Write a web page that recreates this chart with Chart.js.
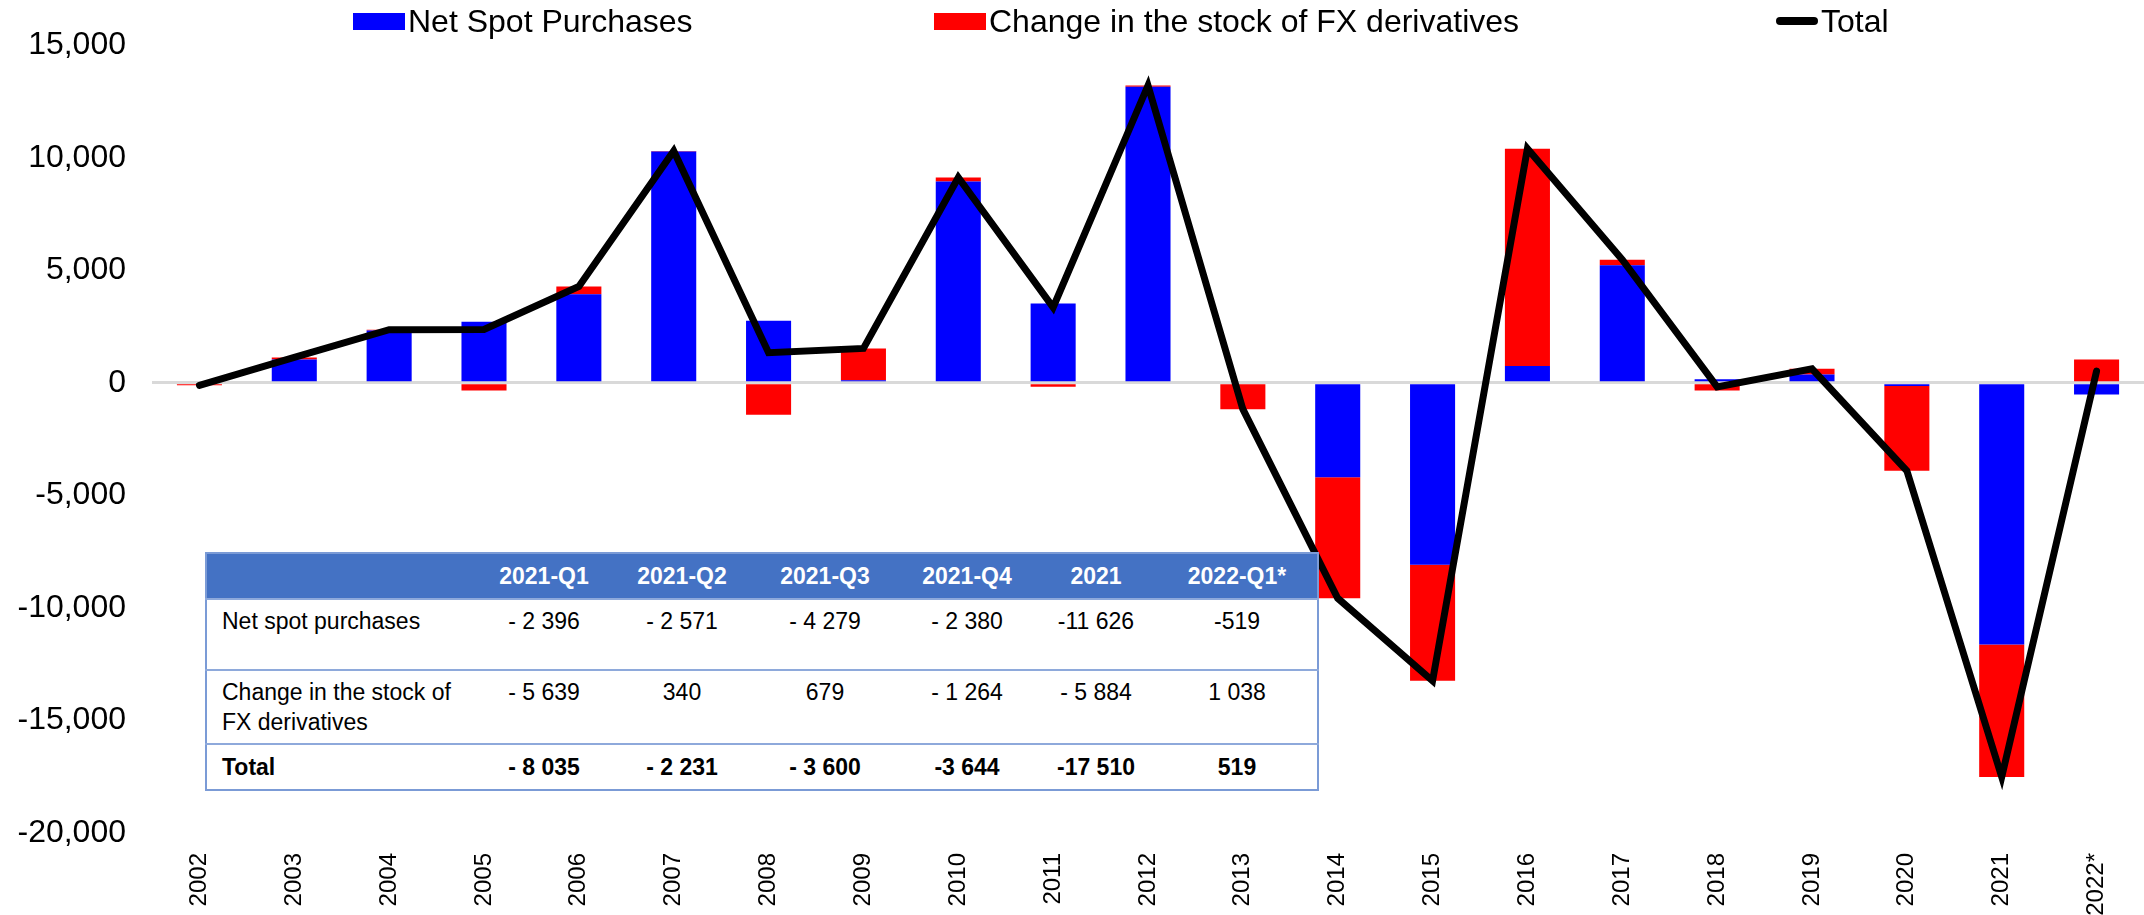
<!DOCTYPE html>
<html>
<head>
<meta charset="utf-8">
<script src="https://cdn.jsdelivr.net/npm/chart.js@4.4.1/dist/chart.umd.min.js"></script>
<style>
html,body{margin:0;padding:0;background:#fff;}
#wrap{position:relative;width:2144px;height:915px;overflow:hidden;font-family:"Liberation Sans",Arial,sans-serif;}
#c{position:absolute;left:0;top:0;}
.leg{position:absolute;top:0;height:42px;display:flex;align-items:center;font-size:32px;color:#000;white-space:nowrap;}
.box{display:inline-block;width:52px;height:17px;margin-right:3px;}
.lin{display:inline-block;width:42px;height:8px;background:#000;border-radius:4px;margin-right:3px;}
#tbl{position:absolute;left:205px;top:552px;width:1112px;border-collapse:collapse;table-layout:fixed;font-size:23px;color:#000;background:#fff;border:2px solid #7b9bd6;}
#tbl th{background:#4472C4;color:#fff;font-weight:bold;height:44px;padding:0;text-align:center;vertical-align:middle;}
#tbl td{padding:0;text-align:center;vertical-align:top;line-height:30px;border-top:2px solid #8EA9DB;}
#tbl td.lab{text-align:left;padding-left:15px;}
#tbl tr.r1 td{height:71px;padding-top:6px;box-sizing:border-box;}
#tbl tr.r2 td{height:74px;padding-top:6px;box-sizing:border-box;}
#tbl tr.tot td{height:44px;font-weight:bold;vertical-align:middle;}
</style>
</head>
<body>
<div id="wrap">
<canvas id="c" width="2144" height="915"></canvas>
<div class="leg" style="left:353px;"><span class="box" style="background:#0000FF"></span><span id="l1"></span></div>
<div class="leg" style="left:934px;"><span class="box" style="background:#FF0000"></span><span id="l2"></span></div>
<div class="leg" style="left:1776px;"><span class="lin"></span><span id="l3"></span></div>
<table id="tbl"></table>
</div>
<script>
// ---- data ----
const years = ['2002','2003','2004','2005','2006','2007','2008','2009','2010','2011','2012','2013','2014','2015','2016','2017','2018','2019','2020','2021','2022*'];
const netSpot = [0, 1040, 2320, 2710, 3940, 10280, 2760, 110, 8940, 3520, 13150, 0, -4200, -8080, 750, 5220, 160, 370, -140, -11626, -519];
const fxDeriv = [-110, 90, 40, -340, 340, 20, -1420, 1420, 180, -170, 60, -1170, -5370, -5160, 9650, 250, -340, 250, -3770, -5884, 1038];
const total = [-110, 1130, 2360, 2370, 4280, 10300, 1340, 1530, 9120, 3350, 13210, -1170, -9570, -13240, 10400, 5470, -180, 620, -3910, -17510, 519];
const seriesNames = ['Net Spot Purchases', 'Change in the stock of FX derivatives', 'Total'];
const tableCols = ['2021-Q1','2021-Q2','2021-Q3','2021-Q4','2021','2022-Q1*'];
const tableRowNames = ['Net spot purchases', 'Change in the stock of<br>FX derivatives', 'Total'];
const tableNet = ['- 2 396','- 2 571','- 4 279','- 2 380','-11 626','-519'];
const tableFx = ['- 5 639','340','679','- 1 264','- 5 884','1 038'];
const tableTotal = ['- 8 035','- 2 231','- 3 600','-3 644','-17 510','519'];
const colWidths = [269,138,138,148,136,122,161];

// ---- legend + table ----
document.getElementById('l1').textContent = seriesNames[0];
document.getElementById('l2').textContent = seriesNames[1];
document.getElementById('l3').textContent = seriesNames[2];
let h = '<colgroup>' + colWidths.map(w => '<col style="width:' + w + 'px">').join('') + '</colgroup>';
h += '<tr><th></th>' + tableCols.map(c => '<th>' + c + '</th>').join('') + '</tr>';
const rows = [tableNet, tableFx, tableTotal];
const cls = ['r1','r2','tot'];
rows.forEach((r, i) => {
  h += '<tr class="' + cls[i] + '"><td class="lab">' + tableRowNames[i] + '</td>' + r.map(v => '<td>' + v + '</td>').join('') + '</tr>';
});
document.getElementById('tbl').innerHTML = h;

// ---- chart ----
const FONT = '"Liberation Sans", Arial, sans-serif';
function fmt(v){ const s = String(Math.abs(v)).replace(/\B(?=(\d{3})+(?!\d))/g, ','); return (v < 0 ? '-' : '') + s; }
new Chart(document.getElementById('c').getContext('2d'), {
  type: 'bar',
  data: {
    labels: years,
    datasets: [
      { type: 'line', label: seriesNames[2], data: total, borderColor: '#000000', backgroundColor: '#000000',
        borderWidth: 7, pointRadius: 0, pointHoverRadius: 0, tension: 0, fill: false, order: 0, stack: 'line',
        borderJoinStyle: 'miter', borderCapStyle: 'round' },
      { label: seriesNames[0], data: netSpot, backgroundColor: '#0000FF', order: 1, stack: 'bars',
        barPercentage: 0.475, categoryPercentage: 1.0 },
      { label: seriesNames[1], data: fxDeriv, backgroundColor: '#FF0000', order: 1, stack: 'bars',
        barPercentage: 0.475, categoryPercentage: 1.0 }
    ]
  },
  options: {
    responsive: false,
    animation: false,
    devicePixelRatio: 1,
    layout: { padding: { left: 0, right: 0, top: 44, bottom: 0 } },
    plugins: { legend: { display: false }, tooltip: { enabled: false } },
    scales: {
      x: {
        stacked: true,
        grid: { display: false },
        border: { display: false },
        ticks: { minRotation: 90, maxRotation: 90, autoSkip: false, padding: 12, color: '#000',
                 font: { family: FONT, size: 24 } },
        afterFit(s) { s.height = 82; }
      },
      y: {
        stacked: true,
        min: -20000, max: 15000,
        ticks: { stepSize: 5000, padding: 26, color: '#000', font: { family: FONT, size: 32 },
                 callback: v => fmt(v) },
        grid: { color: c => (c.tick && c.tick.value === 0) ? '#D9D9D9' : 'rgba(0,0,0,0)', lineWidth: 3, drawTicks: false },
        border: { display: false },
        afterFit(s) { s.width = 152; }
      }
    }
  }
});
</script>
</body>
</html>
